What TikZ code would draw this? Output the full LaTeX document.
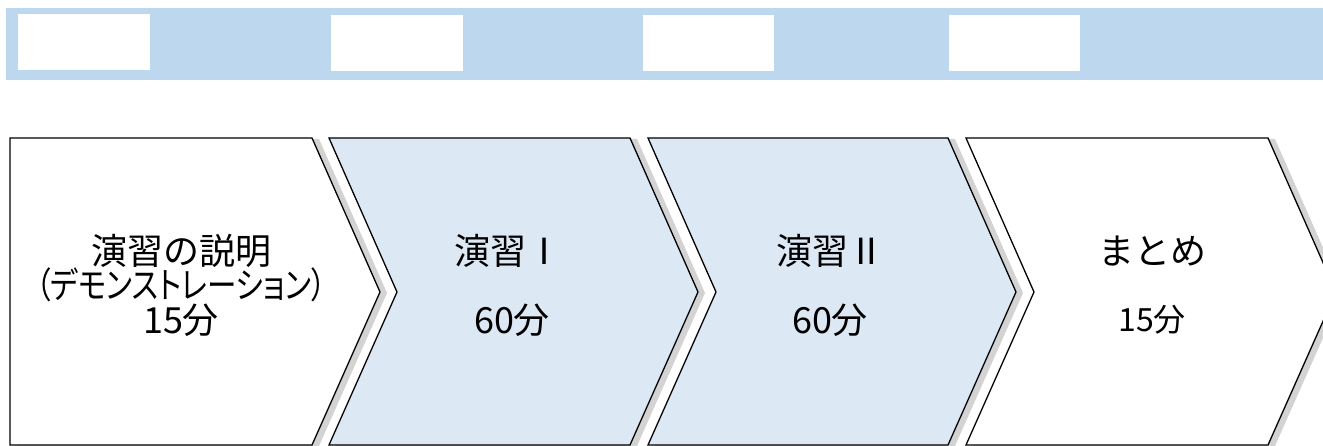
\documentclass[tikz,border=0pt]{standalone}
\usepackage{graphicx}
\usepackage{fontspec}
\setmainfont{Noto Sans CJK JP}
\newfontfamily\jpnarrow{Noto Sans CJK JP}[CharacterWidth=AlternateProportional]
\usetikzlibrary{shadows}
\definecolor{bandblue}{HTML}{BDD7EE}
\definecolor{chevblue}{HTML}{DDE8F5}

\begin{document}
\begin{tikzpicture}[x=1pt,y=-1pt,
  chev/.style={draw=black, line width=1.3pt, line join=miter,
    drop shadow={shadow xshift=7pt, shadow yshift=-1pt, opacity=.35, fill=black!50}},
  lbl/.style={inner sep=0pt, align=center, font=\fontsize{36}{36}\selectfont}]

\useasboundingbox (0,0) rectangle (1323,446);
\clip (0,0) rectangle (1323,446);

% header band
\fill[bandblue] (6,8) rectangle (1323,80);
\fill[white] (18,14) rectangle (150,70);
\fill[white] (331,15) rectangle (463,71);
\fill[white] (643,15) rectangle (774,71);
\fill[white] (949,15) rectangle (1080,71);

% chevrons
\draw[chev, fill=white]
  (10,138) -- (312,138) -- (380,292) -- (312,445) -- (10,445) -- cycle;
\draw[chev, fill=chevblue]
  (329,138) -- (630,138) -- (698,292) -- (630,445) -- (329,445) -- (397,292) -- cycle;
\draw[chev, fill=chevblue]
  (648,138) -- (948,138) -- (1016,292) -- (948,445) -- (648,445) -- (716,292) -- cycle;
\draw[chev, fill=white]
  (966,138) -- (1268,138) -- (1336,292) -- (1268,445) -- (966,445) -- (1034,292) -- cycle;

% labels
\node[lbl] (intro)  at (181,251) {演習の説明};
\node[lbl] (demo)   at (181,285) {\scalebox{0.82}[1]{\jpnarrow （デモンストレーション）}};
\node[lbl] (introT) at (181,320) {15分};

\node[lbl] (ex1)  at (508,251) {演習Ⅰ};
\node[lbl] (ex1T) at (512,320) {60分};

\node[lbl] (ex2)  at (830,251) {演習Ⅱ};
\node[lbl] (ex2T) at (830,320) {60分};

\node[lbl] (sum)  at (1152,251) {まとめ};
\node[lbl, font=\fontsize{32}{32}\selectfont] (sumT) at (1152,320) {15分};

\end{tikzpicture}
\end{document}
